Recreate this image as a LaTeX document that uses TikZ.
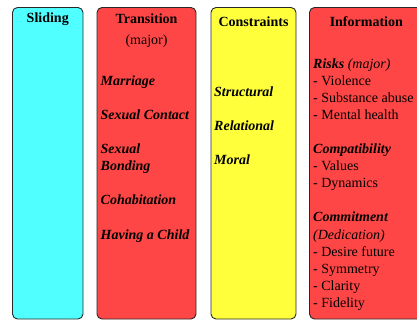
\documentclass[tikz,border=0pt]{standalone}
\usepackage{fontspec}
\setmainfont{LiberationSerif}[Extension=.ttf, UprightFont=*-Regular, BoldFont=*-Bold, ItalicFont=*-Italic, BoldItalicFont=*-BoldItalic]
\definecolor{cyanfill}{RGB}{80,255,255}
\definecolor{redfill}{RGB}{255,70,70}
\definecolor{yellowfill}{RGB}{255,255,60}
\definecolor{edge}{RGB}{40,40,40}
\begin{document}
\begin{tikzpicture}[x=1pt,y=-1pt,
  colbox/.style={draw=edge, line width=0.9pt, rounded corners=5pt, inner sep=0pt},
  head/.style={anchor=base, inner sep=0pt, font=\fontsize{14}{17}\selectfont\bfseries},
  item/.style={anchor=base west, inner sep=0pt, font=\fontsize{14}{17}\selectfont\bfseries\itshape},
  plain/.style={anchor=base west, inner sep=0pt, font=\fontsize{14}{17}\selectfont},
  sub/.style={anchor=base west, inner sep=0pt, font=\fontsize{14}{17}\selectfont\itshape}]
\clip (0,0) rectangle (417,320);
\fill[white] (0,0) rectangle (417,320);
% boxes
\node[colbox, fill=cyanfill, minimum width=70.5pt, minimum height=311.5pt] (bslide) at (47.75,163.25) {};
\node[colbox, fill=redfill, minimum width=99pt, minimum height=311.5pt] (btrans) at (146.5,163.25) {};
\node[colbox, fill=yellowfill, minimum width=85pt, minimum height=311.5pt] (bcons) at (253.5,163.25) {};
\node[colbox, fill=redfill, minimum width=114pt, minimum height=311.5pt] (binfo) at (366.5,163.25) {};
% headings
\node[head] (hslide) at (47.75,23) {Sliding};
\node[head] (htrans) at (146.5,24) {Transition};
\node[plain, anchor=base] (tmajor) at (146.5,45) {(major)};
\node[head] (hcons) at (253.5,27) {Constraints};
\node[head] (hinfo) at (366.3,27) {Information};
% transition items
\node[item] (tmarr) at (100.5,86) {Marriage};
\node[item] (tsex) at (100.5,120) {Sexual Contact};
\node[item] (tbond1) at (100.5,154) {Sexual};
\node[item] (tbond2) at (100.5,171) {Bonding};
\node[item] (tcohab) at (100.5,205) {Cohabitation};
\node[item] (tchild) at (100.5,239) {Having a Child};
% constraints items
\node[item] (cstruct) at (214,97) {Structural};
\node[item] (crel) at (214,131) {Relational};
\node[item] (cmoral) at (214,165) {Moral};
% information items
\node[item] (irisk) at (313,69) {Risks \textmd{(major)}};
\node[plain] (iviol) at (313,86) {- Violence};
\node[plain] (isubst) at (313,103) {- Substance abuse};
\node[plain] (iment) at (313,120) {- Mental health};
\node[item] (icompat) at (313,154) {Compatibility};
\node[plain] (ival) at (313,171) {- Values};
\node[plain] (idyn) at (313,188) {- Dynamics};
\node[item] (icommit) at (313,222) {Commitment};
\node[sub] (idedic) at (313,239) {(Dedication)};
\node[plain] (idesire) at (313,256) {- Desire future};
\node[plain] (isym) at (313,273) {- Symmetry};
\node[plain] (iclar) at (313,290) {- Clarity};
\node[plain] (ifid) at (313,307) {- Fidelity};
\end{tikzpicture}
\end{document}
